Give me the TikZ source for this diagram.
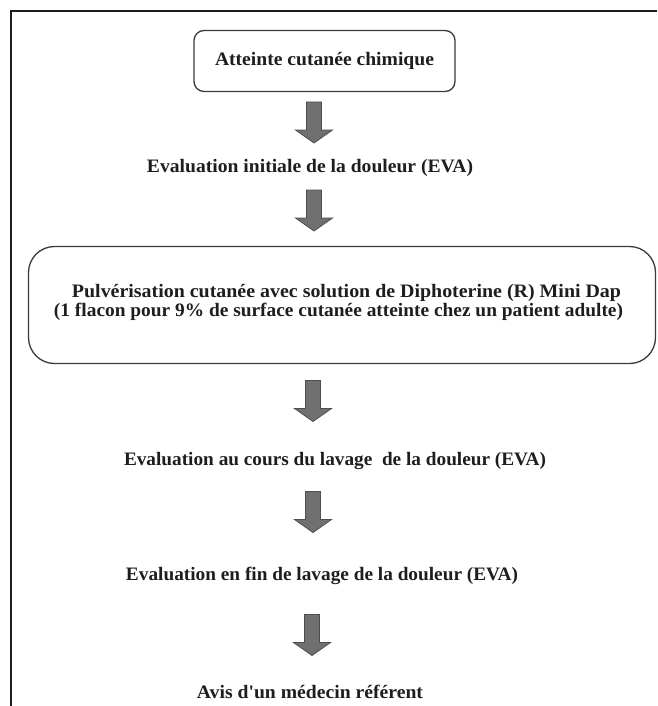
\documentclass[tikz,border=0pt]{standalone}
\usepackage{fontspec}
\setmainfont{Liberation Serif}
\usepackage{graphicx}
\newcommand\fitw[2]{\resizebox{#1}{\height}{#2}}
\definecolor{inkc}{HTML}{1E1E1E}
\definecolor{boxc}{HTML}{3A3A3A}
\definecolor{arrfill}{HTML}{707070}
\definecolor{arredge}{HTML}{4E4E4E}
\begin{document}
\begin{tikzpicture}[x=1pt,y=-1pt,
  lbl/.style={inner sep=0pt, text=inkc, font=\fontsize{19}{19}\selectfont\bfseries},
  roundbox/.style={draw=boxc, line width=1.3pt, inner sep=0pt},
  downarr/.pic={\draw[fill=arrfill, draw=arredge, line width=0.8pt, line join=miter]
      (-7.5,-20.5) -- (7.5,-20.5) -- (7.5,7.5) -- (18.5,7.5) -- (0,20.5)
      -- (-18.5,7.5) -- (-7.5,7.5) -- cycle;}
]
\useasboundingbox (0,0) rectangle (657,706);
\fill[white] (0,0) rectangle (657,706);
% frame (top and left edges)
\coordinate (fTL) at (11,11);
\coordinate (fTR) at (657,11);
\coordinate (fBL) at (11,706);
\draw[line width=2pt, color=inkc] (fTR) -- (fTL) -- (fBL);

% boxes and texts
\node[roundbox, rounded corners=10pt, minimum width=261pt, minimum height=61pt]
  (b1) at (324.5,61) {};
\node[lbl] (t1) at (b1.center) {\fitw{219pt}{Atteinte cutanée chimique}};

\node[lbl] (t2) at (310,168) {\fitw{326pt}{Evaluation initiale de la douleur (EVA)}};

\node[roundbox, rounded corners=26pt, minimum width=627pt, minimum height=117pt]
  (b2) at (342,305) {};
\node[lbl] (t2a) at (346.5,293) {\fitw{549pt}{Pulvérisation cutanée avec solution de Diphoterine (R) Mini Dap}};
\node[lbl] (t2b) at (338.5,312) {\fitw{569pt}{(1 flacon pour 9\% de surface cutanée atteinte chez un patient adulte)}};

\node[lbl] (t3) at (335,461) {\fitw{422pt}{Evaluation au cours du lavage\ \ de la douleur (EVA)}};
\node[lbl] (t4) at (322,576) {\fitw{392pt}{Evaluation en fin de lavage de la douleur (EVA)}};
\node[lbl] (t5) at (310,692) {\fitw{226pt}{Avis d\textquotesingle un médecin référent}};

% block arrows
\coordinate (a1) at (314,122.5);
\coordinate (a2) at (314,210.5);
\coordinate (a3) at (313,401);
\coordinate (a4) at (313,512);
\coordinate (a5) at (312,635);
\foreach \c in {a1,a2,a3,a4,a5} \pic at (\c) {downarr};
\end{tikzpicture}
\end{document}
